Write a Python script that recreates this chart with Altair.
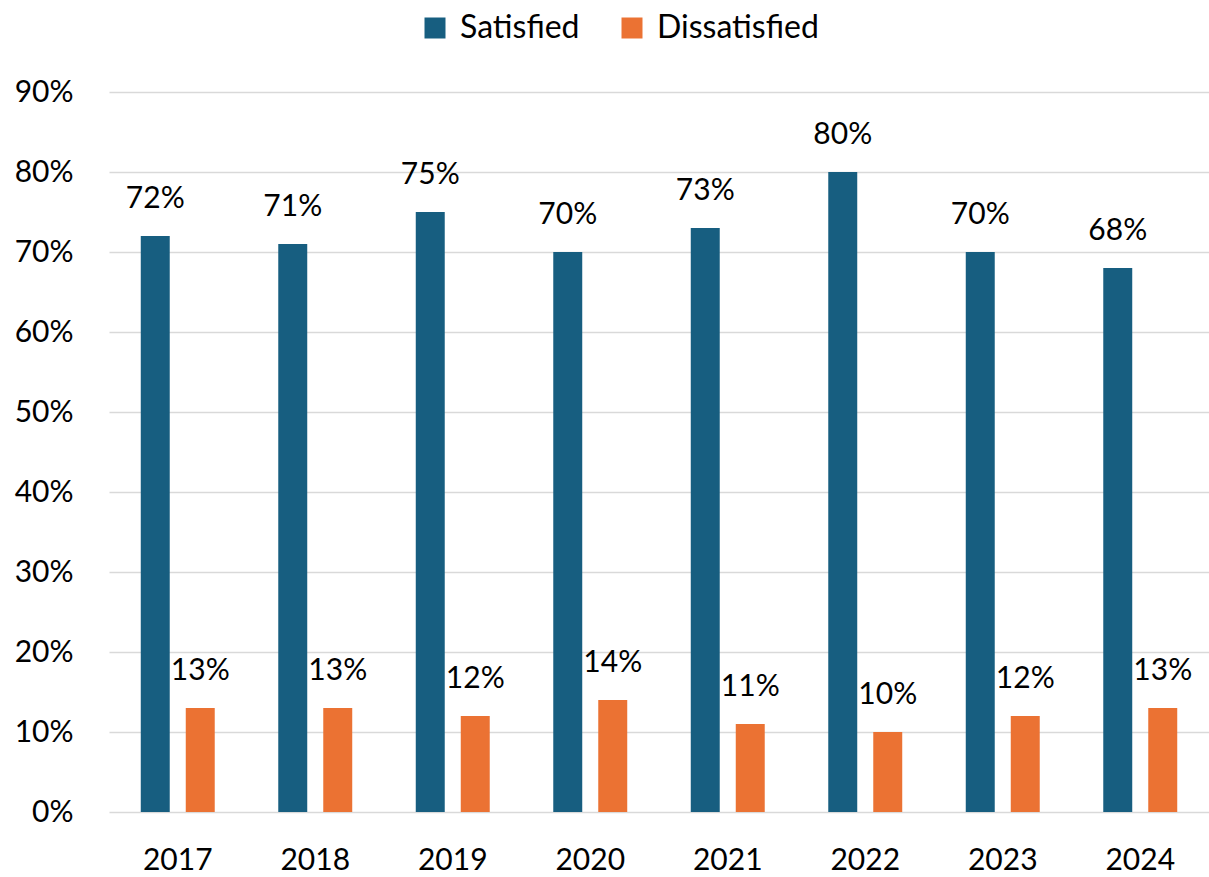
import altair as alt
import pandas as pd

years = ["2017", "2018", "2019", "2020", "2021", "2022", "2023", "2024"]
satisfied = [72, 71, 75, 70, 73, 80, 70, 68]
dissatisfied = [13, 13, 12, 14, 11, 10, 12, 13]
series = ["Satisfied", "Dissatisfied"]
colors = ["#175E80", "#EB7233"]

rows = []
for i, y in enumerate(years):
    rows.append({"year": y, "series": series[0], "value": satisfied[i], "label": f"{satisfied[i]}%"})
    rows.append({"year": y, "series": series[1], "value": dissatisfied[i], "label": f"{dissatisfied[i]}%"})
df = pd.DataFrame(rows)

FONT = "Lato"
FS = 30

x = alt.X("year:N", sort=years, title=None,
          scale=alt.Scale(paddingInner=0.462, paddingOuter=0.231),
          axis=alt.Axis(labelAngle=0, labelFontSize=FS, labelFont=FONT, labelColor="#000000",
                        domain=False, ticks=False, grid=False, labelPadding=33))
xoff = alt.XOffset("series:N", sort=series,
                   scale=alt.Scale(paddingInner=0.356, paddingOuter=0))
y = alt.Y("value:Q", title=None,
          scale=alt.Scale(domain=[0, 90], nice=False),
          axis=alt.Axis(values=list(range(0, 100, 10)), labelExpr="datum.value + '%'",
                        labelFontSize=FS, labelFont=FONT, labelColor="#000000",
                        domain=False, ticks=False, labelPadding=36,
                        grid=True, gridColor="#d9d9d9", gridWidth=1.5))
color = alt.Color("series:N", sort=series,
                  scale=alt.Scale(domain=series, range=colors),
                  legend=alt.Legend(title=None, orient="none", direction="horizontal",
                                    legendX=310, legendY=-80,
                                    symbolType="square", symbolSize=441, symbolStrokeWidth=0,
                                    labelFontSize=32, labelFont=FONT, labelColor="#000000",
                                    labelLimit=400,
                                    labelOffset=9, columnPadding=36))

base = alt.Chart(df)
bars = base.mark_bar().encode(x=x, xOffset=xoff, y=y, color=color)
texts = base.mark_text(baseline="bottom", dy=-22, fontSize=FS, font=FONT, color="#000000").encode(
    x=x, xOffset=xoff, y=y, text="label:N")

chart = (bars + texts).properties(
    width=1100, height=720,
    autosize=alt.AutoSizeParams(type="none"),
    padding={"left": 109, "top": 92, "right": 0, "bottom": 65},
    background="#ffffff",
).configure_view(stroke=None, strokeWidth=0)

chart.save("out.html", embed_options={"renderer": "svg", "actions": False})
